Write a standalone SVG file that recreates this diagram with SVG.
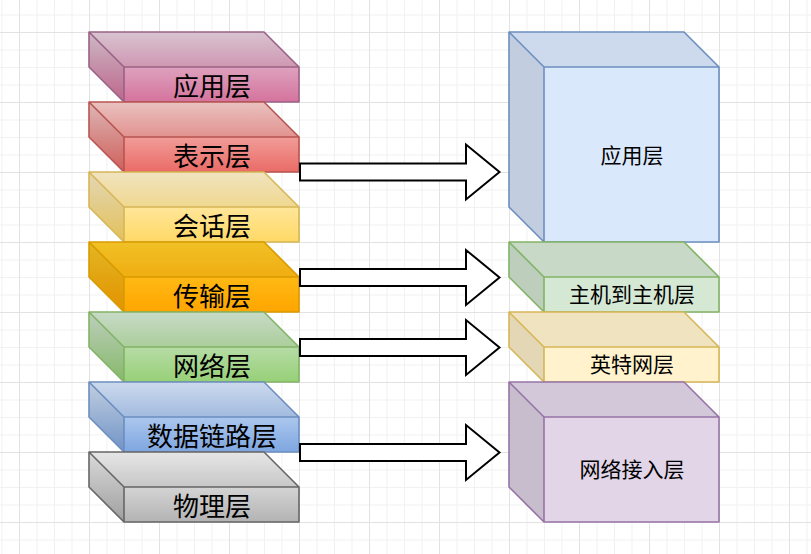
<svg xmlns="http://www.w3.org/2000/svg" width="811" height="554" viewBox="0 0 811 554">
  <style>
    .edge { fill: none; stroke-width: 1.6; stroke-linejoin: round; }
    .top { fill: #000; fill-opacity: 0.06; stroke: none; }
    .side { fill: #000; fill-opacity: 0.11; stroke: none; }
    .big { font-family: "Noto Sans CJK SC", "Microsoft YaHei", sans-serif; font-size: 26px; fill: #000; text-anchor: middle; }
    .small { font-family: "Noto Sans CJK SC", "Microsoft YaHei", sans-serif; font-size: 21px; fill: #000; text-anchor: middle; }
    .arrow { fill: #fff; stroke: #000; stroke-width: 2; stroke-linejoin: miter; }
  </style>
  <defs>
    <pattern id="grid" x="19" y="32" width="70" height="70" patternUnits="userSpaceOnUse">
      <path d="M18,0V70M35.5,0V70M53,0V70M0,18H70M0,35.5H70M0,53H70" stroke="#f1f1f1" stroke-width="1" fill="none"/>
      <path d="M0.5,0V70M0,0.5H70" stroke="#e2e2e2" stroke-width="1" fill="none"/>
    </pattern>
    <linearGradient id="gPink" x1="0" y1="0" x2="0" y2="1"><stop offset="0" stop-color="#e6d0de"/><stop offset="1" stop-color="#d5739d"/></linearGradient>
    <linearGradient id="gRed" x1="0" y1="0" x2="0" y2="1"><stop offset="0" stop-color="#f8cecc"/><stop offset="1" stop-color="#ea6b66"/></linearGradient>
    <linearGradient id="gYellow" x1="0" y1="0" x2="0" y2="1"><stop offset="0" stop-color="#fff2cc"/><stop offset="1" stop-color="#ffd966"/></linearGradient>
    <linearGradient id="gOrange" x1="0" y1="0" x2="0" y2="1"><stop offset="0" stop-color="#ffcd28"/><stop offset="1" stop-color="#ffa500"/></linearGradient>
    <linearGradient id="gGreen" x1="0" y1="0" x2="0" y2="1"><stop offset="0" stop-color="#d5e8d4"/><stop offset="1" stop-color="#97d077"/></linearGradient>
    <linearGradient id="gBlue" x1="0" y1="0" x2="0" y2="1"><stop offset="0" stop-color="#dae8fc"/><stop offset="1" stop-color="#7ea6e0"/></linearGradient>
    <linearGradient id="gGray" x1="0" y1="0" x2="0" y2="1"><stop offset="0" stop-color="#f5f5f5"/><stop offset="1" stop-color="#b3b3b3"/></linearGradient>
  </defs>

  <rect width="811" height="554" fill="#fff"/>
  <rect width="811" height="554" fill="url(#grid)"/>

  <!-- OSI seven layers (left stack) -->
  <g id="osi-application">
    <path d="M89,32H264L299,67V102H124L89,67Z" fill="url(#gPink)"/>
    <path class="top" d="M89,32H264L299,67H124Z"/>
    <path class="side" d="M89,32L124,67V102L89,67Z"/>
    <path class="edge" stroke="#996185" d="M89,32H264L299,67V102H124L89,67Z M89,32L124,67H299 M124,67V102"/>
    <text class="big" x="212" y="96">应用层</text>
  </g>
  <g id="osi-presentation">
    <path d="M89,102H264L299,137V172H124L89,137Z" fill="url(#gRed)"/>
    <path class="top" d="M89,102H264L299,137H124Z"/>
    <path class="side" d="M89,102L124,137V172L89,137Z"/>
    <path class="edge" stroke="#b85450" d="M89,102H264L299,137V172H124L89,137Z M89,102L124,137H299 M124,137V172"/>
    <text class="big" x="212" y="166">表示层</text>
  </g>
  <g id="osi-session">
    <path d="M89,172H264L299,207V242H124L89,207Z" fill="url(#gYellow)"/>
    <path class="top" d="M89,172H264L299,207H124Z"/>
    <path class="side" d="M89,172L124,207V242L89,207Z"/>
    <path class="edge" stroke="#d6b656" d="M89,172H264L299,207V242H124L89,207Z M89,172L124,207H299 M124,207V242"/>
    <text class="big" x="212" y="236">会话层</text>
  </g>
  <g id="osi-transport">
    <path d="M89,242H264L299,277V312H124L89,277Z" fill="url(#gOrange)"/>
    <path class="top" d="M89,242H264L299,277H124Z"/>
    <path class="side" d="M89,242L124,277V312L89,277Z"/>
    <path class="edge" stroke="#d79b00" d="M89,242H264L299,277V312H124L89,277Z M89,242L124,277H299 M124,277V312"/>
    <text class="big" x="212" y="306">传输层</text>
  </g>
  <g id="osi-network">
    <path d="M89,312H264L299,347V382H124L89,347Z" fill="url(#gGreen)"/>
    <path class="top" d="M89,312H264L299,347H124Z"/>
    <path class="side" d="M89,312L124,347V382L89,347Z"/>
    <path class="edge" stroke="#82b366" d="M89,312H264L299,347V382H124L89,347Z M89,312L124,347H299 M124,347V382"/>
    <text class="big" x="212" y="376">网络层</text>
  </g>
  <g id="osi-datalink">
    <path d="M89,382H264L299,417V452H124L89,417Z" fill="url(#gBlue)"/>
    <path class="top" d="M89,382H264L299,417H124Z"/>
    <path class="side" d="M89,382L124,417V452L89,417Z"/>
    <path class="edge" stroke="#6c8ebf" d="M89,382H264L299,417V452H124L89,417Z M89,382L124,417H299 M124,417V452"/>
    <text class="big" x="212" y="446">数据链路层</text>
  </g>
  <g id="osi-physical">
    <path d="M89,452H264L299,487V522H124L89,487Z" fill="url(#gGray)"/>
    <path class="top" d="M89,452H264L299,487H124Z"/>
    <path class="side" d="M89,452L124,487V522L89,487Z"/>
    <path class="edge" stroke="#666666" d="M89,452H264L299,487V522H124L89,487Z M89,452L124,487H299 M124,487V522"/>
    <text class="big" x="212" y="516">物理层</text>
  </g>

  <!-- TCP/IP four layers (right stack) -->
  <g id="tcp-application">
    <path d="M509,32H684L719,67V242H544L509,207Z" fill="#dae8fc"/>
    <path class="top" d="M509,32H684L719,67H544Z"/>
    <path class="side" d="M509,32L544,67V242L509,207Z"/>
    <path class="edge" stroke="#6c8ebf" d="M509,32H684L719,67V242H544L509,207Z M509,32L544,67H719 M544,67V242"/>
    <text class="small" x="632" y="163">应用层</text>
  </g>
  <g id="tcp-transport">
    <path d="M509,242H684L719,277V312H544L509,277Z" fill="#d5e8d4"/>
    <path class="top" d="M509,242H684L719,277H544Z"/>
    <path class="side" d="M509,242L544,277V312L509,277Z"/>
    <path class="edge" stroke="#82b366" d="M509,242H684L719,277V312H544L509,277Z M509,242L544,277H719 M544,277V312"/>
    <text class="small" x="632" y="302">主机到主机层</text>
  </g>
  <g id="tcp-internet">
    <path d="M509,312H684L719,347V382H544L509,347Z" fill="#fff2cc"/>
    <path class="top" d="M509,312H684L719,347H544Z"/>
    <path class="side" d="M509,312L544,347V382L509,347Z"/>
    <path class="edge" stroke="#d6b656" d="M509,312H684L719,347V382H544L509,347Z M509,312L544,347H719 M544,347V382"/>
    <text class="small" x="632" y="372">英特网层</text>
  </g>
  <g id="tcp-link">
    <path d="M509,382H684L719,417V522H544L509,487Z" fill="#e1d5e7"/>
    <path class="top" d="M509,382H684L719,417H544Z"/>
    <path class="side" d="M509,382L544,417V522L509,487Z"/>
    <path class="edge" stroke="#9673a6" d="M509,382H684L719,417V522H544L509,487Z M509,382L544,417H719 M544,417V522"/>
    <text class="small" x="632" y="477">网络接入层</text>
  </g>

  <!-- mapping arrows -->
  <g id="connectors">
    <path class="arrow" d="M300,163.5H466V144.5L499.5,172L466,199.5V180.5H300Z"/>
    <path class="arrow" d="M300,269H466V250L499.5,277.5L466,305V286H300Z"/>
    <path class="arrow" d="M300,339H466V320L499.5,347.5L466,375V356H300Z"/>
    <path class="arrow" d="M300,444H466V425L499.5,452.5L466,480V461H300Z"/>
  </g>
</svg>
